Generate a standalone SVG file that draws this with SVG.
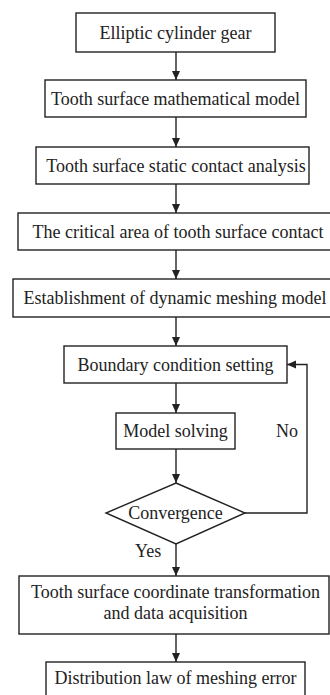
<svg xmlns="http://www.w3.org/2000/svg" width="330" height="695" viewBox="0 0 330 695">
<style>
.box{fill:#fff;stroke:#222;stroke-width:1.4}
.t{font-family:"Liberation Serif","Times New Roman",serif;font-size:18px;fill:#222;text-anchor:middle}
.l{font-family:"Liberation Serif","Times New Roman",serif;font-size:18px;fill:#222}
.c{fill:none;stroke:#222;stroke-width:1.4}
</style>
<defs>
<marker id="ah" markerWidth="10" markerHeight="10" refX="9" refY="5" orient="auto" markerUnits="userSpaceOnUse">
<path d="M0,1 L9,5 L0,9 Z" fill="#222"/>
</marker>
</defs>
<rect width="330" height="695" fill="#fff"/>
<g id="connectors">
<line class="c" x1="176" y1="52" x2="176" y2="80" marker-end="url(#ah)"/>
<line class="c" x1="176" y1="117" x2="176" y2="147" marker-end="url(#ah)"/>
<line class="c" x1="176" y1="184" x2="176" y2="213" marker-end="url(#ah)"/>
<line class="c" x1="176" y1="250" x2="176" y2="279" marker-end="url(#ah)"/>
<line class="c" x1="176" y1="317" x2="176" y2="346" marker-end="url(#ah)"/>
<line class="c" x1="176" y1="383" x2="176" y2="413" marker-end="url(#ah)"/>
<line class="c" x1="176" y1="449" x2="176" y2="483" marker-end="url(#ah)"/>
<line class="c" x1="176" y1="544" x2="176" y2="576" marker-end="url(#ah)"/>
<line class="c" x1="176" y1="634" x2="176" y2="662" marker-end="url(#ah)"/>
<polyline class="c" points="245,513 307,513 307,364.5 287,364.5" marker-end="url(#ah)"/>
<text class="l" x="276" y="437">No</text>
<text class="l" x="135" y="557">Yes</text>
</g>
<g id="n1"><rect class="box" x="76" y="13" width="199" height="39"/><text class="t" x="175.5" y="38.5">Elliptic cylinder gear</text></g>
<g id="n2"><rect class="box" x="45" y="80" width="261" height="37"/><text class="t" x="175.5" y="104.5">Tooth surface mathematical model</text></g>
<g id="n3"><rect class="box" x="36" y="147" width="273" height="37"/><text class="t" x="176" y="171.5">Tooth surface static contact analysis</text></g>
<g id="n4"><rect class="box" x="18" y="213" width="316" height="37"/><text class="t" x="178" y="237.5">The critical area of tooth surface contact</text></g>
<g id="n5"><rect class="box" x="13" y="279" width="326" height="38"/><text class="t" x="175" y="304">Establishment of dynamic meshing model</text></g>
<g id="n6"><rect class="box" x="64" y="346" width="223" height="37"/><text class="t" x="175.5" y="370.5">Boundary condition setting</text></g>
<g id="n7"><rect class="box" x="116" y="413" width="119" height="36"/><text class="t" x="175.5" y="437">Model solving</text></g>
<g id="n8"><polygon class="box" points="176,483 245,513 176,544 106,513"/><text class="t" x="175.5" y="519">Convergence</text></g>
<g id="n9"><rect class="box" x="19" y="576" width="310" height="58"/><text class="t" x="175.5" y="598">Tooth surface coordinate transformation</text><text class="t" x="175.5" y="619">and data acquisition</text></g>
<g id="n10"><rect class="box" x="46" y="662" width="259" height="40"/><text class="t" x="175.5" y="684">Distribution law of meshing error</text></g>
</svg>
